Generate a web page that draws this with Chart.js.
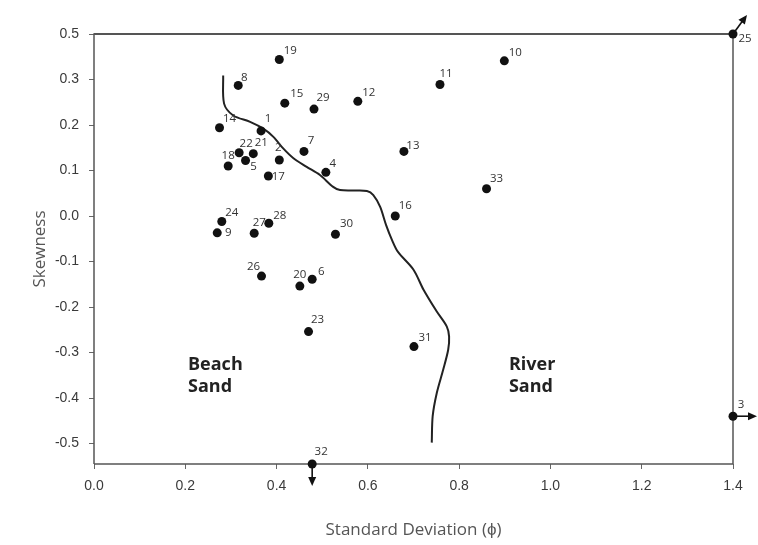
<!DOCTYPE html>
<html>
<head>
<meta charset="utf-8">
<script src="https://cdn.jsdelivr.net/npm/chart.js@4"></script>
<style>
  html, body { margin: 0; padding: 0; background: #fff; }
  #c { display: block; }
</style>
</head>
<body>
<canvas id="c" width="758" height="545"></canvas>
<script>
// Sample numbers and their grain-size statistics
const sampleIds = [1, 2, 3, 4, 5, 6, 7, 8, 9, 10, 11, 12, 13, 14, 15, 16, 17,
                   18, 19, 20, 21, 22, 23, 24, 25, 26, 27, 28, 29, 30, 31, 32, 33];
const stdDev = [0.366, 0.406, 1.40, 0.508, 0.332, 0.478, 0.460, 0.316, 0.270, 0.899, 0.758,
                0.578, 0.679, 0.275, 0.418, 0.660, 0.382, 0.294, 0.406, 0.451, 0.349, 0.318,
                0.470, 0.280, 1.40, 0.367, 0.351, 0.383, 0.482, 0.529, 0.701, 0.478, 0.860];
const skewness = [0.187, 0.123, -0.440, 0.096, 0.122, -0.139, 0.142, 0.287, -0.037, 0.341, 0.289,
                  0.252, 0.142, 0.194, 0.248, 0.000, 0.088, 0.110, 0.344, -0.154, 0.137, 0.139,
                  -0.254, -0.012, 0.400, -0.132, -0.038, -0.016, 0.235, -0.040, -0.287, -0.545, 0.060];

// Dividing line between beach and river sands
const boundaryX = [0.283, 0.285, 0.305, 0.342, 0.371, 0.393, 0.415, 0.437, 0.466, 0.495, 0.524,
                   0.539, 0.568, 0.598, 0.612, 0.627, 0.640, 0.653, 0.666, 0.700, 0.722, 0.751, 0.773,
                   0.778, 0.776, 0.765, 0.751, 0.742, 0.740];
const boundaryY = [0.309, 0.247, 0.221, 0.207, 0.192, 0.174, 0.148, 0.127, 0.108, 0.090, 0.064,
                   0.057, 0.056, 0.055, 0.046, 0.020, -0.020, -0.053, -0.079, -0.118, -0.162, -0.210, -0.243,
                   -0.265, -0.294, -0.338, -0.389, -0.440, -0.498];

// Axis ticks
const xTickValues = [0.0, 0.2, 0.4, 0.6, 0.8, 1.0, 1.2, 1.4];
const xTickLabels = ['0.0', '0.2', '0.4', '0.6', '0.8', '1.0', '1.2', '1.4'];
const yTickValues = [-0.5, -0.4, -0.3, -0.2, -0.1, 0.0, 0.1, 0.2, 0.3, 0.4];
const yTickLabels = ['-0.5', '-0.4', '-0.3', '-0.2', '-0.1', '0.0', '0.1', '0.2', '0.3', '0.5'];

// Field names
const regionLabels = [
  { lines: ['Beach', 'Sand'], x: 0.206, y: -0.327 },
  { lines: ['River', 'Sand'], x: 0.909, y: -0.327 }
];

// Where each sample number sits relative to its dot (px)
const labelOffsets = {
  1: [7, -12], 2: [-1, -12], 3: [8, -12], 4: [7, -9], 5: [8, 6], 6: [9, -8], 7: [7, -11],
  8: [6, -8], 9: [11, 0], 10: [11, -8], 11: [6, -11], 12: [11, -9], 13: [9, -6], 14: [10, -9],
  15: [12, -9], 16: [10, -10], 17: [10, 1], 18: [0, -10], 19: [11, -9], 20: [0, -11],
  21: [8, -11], 22: [7, -9], 23: [9, -12], 24: [10, -9], 25: [12, 5], 26: [-8, -9],
  27: [5, -11], 28: [11, -8], 29: [9, -11], 30: [11, -10], 31: [11, -9], 32: [9, -12], 33: [10, -10]
};
// Samples that fall off the plotted range get an arrow (tip offset in px)
const offScaleArrows = { 25: [14, -19], 3: [24, 0], 32: [0, 22] };

const samplePoints = sampleIds.map((id, i) => ({ x: stdDev[i], y: skewness[i] }));
const boundaryPoints = boundaryX.map((v, i) => ({ x: v, y: boundaryY[i] }));

function drawArrow(ctx, x0, y0, x1, y1) {
  const ang = Math.atan2(y1 - y0, x1 - x0);
  const L = 9, W = 4;
  const c = Math.cos(ang), s = Math.sin(ang);
  ctx.beginPath();
  ctx.moveTo(x0, y0);
  ctx.lineTo(x1 - L * 0.7 * c, y1 - L * 0.7 * s);
  ctx.stroke();
  ctx.beginPath();
  ctx.moveTo(x1, y1);
  ctx.lineTo(x1 - L * c + W * s, y1 - L * s - W * c);
  ctx.lineTo(x1 - L * c - W * s, y1 - L * s + W * c);
  ctx.closePath();
  ctx.fill();
}

const annotations = {
  id: 'annotations',
  beforeDatasetsDraw(chart) {
    const { ctx, chartArea: a } = chart;
    ctx.save();
    ctx.strokeStyle = '#555';
    ctx.lineWidth = 1.5;
    ctx.beginPath();
    ctx.moveTo(a.left, a.bottom);
    ctx.lineTo(a.left, a.top);
    ctx.lineTo(a.right, a.top);
    ctx.lineTo(a.right, a.bottom);
    ctx.lineTo(a.left, a.bottom);
    ctx.stroke();
    // heavier rule along the top edge
    ctx.lineWidth = 2;
    ctx.beginPath();
    ctx.moveTo(a.left, a.top);
    ctx.lineTo(a.right, a.top);
    ctx.stroke();
    ctx.restore();
  },
  afterDatasetsDraw(chart) {
    const { ctx, scales: { x, y } } = chart;
    ctx.save();
    // arrows for off-scale samples
    ctx.strokeStyle = '#111';
    ctx.fillStyle = '#111';
    ctx.lineWidth = 1.6;
    sampleIds.forEach((id, i) => {
      const tip = offScaleArrows[id];
      if (!tip) return;
      const px = x.getPixelForValue(stdDev[i]);
      const py = y.getPixelForValue(skewness[i]);
      drawArrow(ctx, px, py, px + tip[0], py + tip[1]);
    });
    // sample numbers
    ctx.font = '11.5px "Open Sans", sans-serif';
    ctx.fillStyle = '#333';
    ctx.textAlign = 'center';
    ctx.textBaseline = 'middle';
    sampleIds.forEach((id, i) => {
      const off = labelOffsets[id] || [9, -9];
      const px = x.getPixelForValue(stdDev[i]);
      const py = y.getPixelForValue(skewness[i]);
      ctx.fillText(String(id), px + off[0], py + off[1]);
    });
    // field names
    ctx.font = 'bold 18px "Open Sans", sans-serif';
    ctx.fillStyle = '#222';
    ctx.textAlign = 'left';
    regionLabels.forEach(r => {
      const px = x.getPixelForValue(r.x);
      const py = y.getPixelForValue(r.y);
      r.lines.forEach((t, k) => ctx.fillText(t, px, py + k * 22));
    });
    ctx.restore();
  }
};

new Chart(document.getElementById('c'), {
  type: 'scatter',
  data: {
    datasets: [
      {
        label: 'Samples',
        data: samplePoints,
        pointRadius: 4.5,
        pointHoverRadius: 4.5,
        pointBackgroundColor: '#111',
        pointBorderWidth: 0,
        clip: false,
        order: 1
      },
      {
        label: 'Boundary',
        data: boundaryPoints,
        showLine: true,
        borderColor: '#222',
        borderWidth: 2,
        pointRadius: 0,
        tension: 0.3,
        fill: false,
        order: 2
      }
    ]
  },
  options: {
    responsive: false,
    animation: false,
    devicePixelRatio: 1,
    layout: { padding: { top: 34, right: 25, left: 0, bottom: 0 } },
    plugins: {
      legend: { display: false },
      tooltip: { enabled: false }
    },
    scales: {
      x: {
        type: 'linear',
        min: 0,
        max: 1.4,
        afterBuildTicks: s => { s.ticks = xTickValues.map(v => ({ value: v })); },
        afterFit: s => { s.height = 81; },
        ticks: {
          callback: (v, i) => xTickLabels[i],
          font: { family: '"Liberation Sans", Arial, sans-serif', size: 14 },
          color: '#3a3a3a',
          padding: 9,
          maxRotation: 0
        },
        grid: { drawOnChartArea: false, drawTicks: true, tickLength: 5, color: '#666' },
        border: { display: false },
        title: {
          display: true,
          text: 'Standard Deviation (ϕ)',
          font: { family: '"Open Sans", sans-serif', size: 17 },
          color: '#555',
          padding: { top: 0, bottom: 5 }
        }
      },
      y: {
        type: 'linear',
        min: -0.545,
        max: 0.4,
        afterBuildTicks: s => { s.ticks = yTickValues.map(v => ({ value: v })); },
        afterFit: s => { s.width = 94; },
        ticks: {
          callback: (v, i) => yTickLabels[i],
          font: { family: '"Liberation Sans", Arial, sans-serif', size: 14 },
          color: '#3a3a3a',
          padding: 10
        },
        grid: { drawOnChartArea: false, drawTicks: true, tickLength: 5, color: '#666' },
        border: { display: false },
        title: {
          display: true,
          text: 'Skewness',
          font: { family: '"Open Sans", sans-serif', size: 17 },
          color: '#555',
          padding: { top: 30, bottom: 0 }
        }
      }
    }
  },
  plugins: [annotations]
});
</script>
</body>
</html>
